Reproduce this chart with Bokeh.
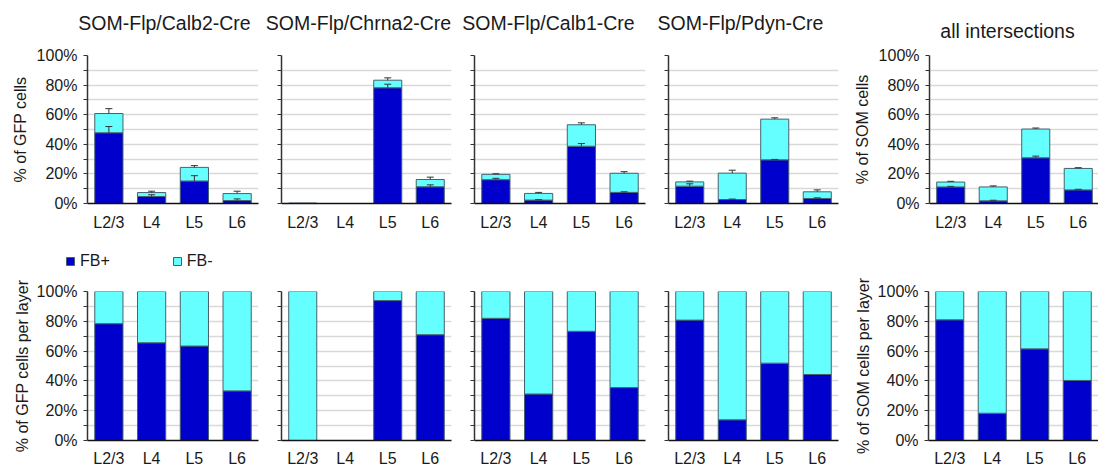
from bokeh.plotting import figure
from bokeh.layouts import column, row
from bokeh.core.properties import value
from bokeh.models import (ColumnDataSource, FactorRange, Range1d, FixedTicker,
                          PrintfTickFormatter, Whisker, TeeHead, Legend, LegendItem)
from bokeh.embed import file_html
from bokeh.resources import INLINE

# ---------------- data ----------------
layers = ["L2/3", "L4", "L5", "L6"]
titles = ["SOM-Flp/Calb2-Cre", "SOM-Flp/Chrna2-Cre", "SOM-Flp/Calb1-Cre",
          "SOM-Flp/Pdyn-Cre", "all intersections"]
series_names = ["FB+", "FB-"]

# top row: % of GFP (or SOM) cells, stacked FB+ / FB-
calb2_pos = [47.8, 4.7, 15.2, 2.0]
calb2_neg = [13.0, 2.7, 9.2, 4.7]
calb2_err_pos = [4.2, 1.2, 3.6, 1.1]
calb2_err_tot = [3.3, 0.9, 1.2, 1.6]

chrna2_pos = [0.0, 0.0, 78.2, 11.3]
chrna2_neg = [0.3, 0.0, 5.1, 4.9]
chrna2_err_pos = [0.0, 0.0, 2.4, 1.3]
chrna2_err_tot = [0.0, 0.0, 1.6, 1.6]

calb1_pos = [16.1, 2.3, 38.7, 7.5]
calb1_neg = [3.6, 4.5, 14.5, 12.9]
calb1_err_pos = [0.9, 0.3, 1.8, 0.4]
calb1_err_tot = [0.4, 0.7, 1.3, 1.1]

pdyn_pos = [11.7, 2.7, 29.5, 3.4]
pdyn_neg = [2.9, 17.8, 27.5, 4.5]
pdyn_err_pos = [1.6, 0.3, 0.3, 0.4]
pdyn_err_tot = [0.5, 2.0, 0.9, 1.3]

all_pos = [11.2, 1.8, 30.9, 9.2]
all_neg = [3.3, 9.4, 19.4, 14.5]
all_err_pos = [0.4, 0.4, 1.1, 0.4]
all_err_tot = [0.5, 0.7, 0.7, 0.5]

# bottom row: % of cells per layer
calb2_layer_pos = [78.4, 65.6, 63.4, 33.3]
calb2_layer_neg = [21.6, 34.4, 36.6, 66.7]
chrna2_layer_pos = [0.0, 0.0, 93.9, 71.0]
chrna2_layer_neg = [100.0, 0.0, 6.1, 29.0]
calb1_layer_pos = [82.0, 31.2, 73.3, 35.5]
calb1_layer_neg = [18.0, 68.8, 26.7, 64.5]
pdyn_layer_pos = [80.8, 13.9, 51.9, 44.3]
pdyn_layer_neg = [19.2, 86.1, 48.1, 55.7]
all_layer_pos = [81.0, 18.3, 61.5, 40.3]
all_layer_neg = [19.0, 81.7, 38.5, 59.7]

top_pos = [calb2_pos, chrna2_pos, calb1_pos, pdyn_pos, all_pos]
top_neg = [calb2_neg, chrna2_neg, calb1_neg, pdyn_neg, all_neg]
top_err_pos = [calb2_err_pos, chrna2_err_pos, calb1_err_pos, pdyn_err_pos, all_err_pos]
top_err_tot = [calb2_err_tot, chrna2_err_tot, calb1_err_tot, pdyn_err_tot, all_err_tot]
bot_pos = [calb2_layer_pos, chrna2_layer_pos, calb1_layer_pos, pdyn_layer_pos, all_layer_pos]
bot_neg = [calb2_layer_neg, chrna2_layer_neg, calb1_layer_neg, pdyn_layer_neg, all_layer_neg]

top_ylabels = ["% of GFP cells", None, None, None, "% of SOM cells"]
bot_ylabels = ["% of GFP cells per layer", None, None, None, "% of SOM cells per layer"]

# ---------------- style / layout ----------------
BLUE = "#0000CC"
CYAN = "#66FFFF"
EDGE = "#46606E"
AXIS = "#333333"
GRID = "#D9D9D9"
TXT = "#1a1a1a"
FONT = "Liberation Sans"

fig_starts = [0, 268, 462, 656, 850]
fig_ends = [268, 462, 656, 850, 1098]
frame_lefts = [87, 281, 474, 668, 928]
frame_widths = [171, 170, 171, 170, 170]
TITLE_STRIP_H = 40
LEGEND_STRIP_H = 32
title_cx = [164, 358, 548, 740, 1007]
title_cy = [22, 22, 22, 22, 30]


def make_panel(i, pos, neg, err_pos, err_tot, ylabel, top_row):
    bl = frame_lefts[i] - fig_starts[i]
    br = fig_ends[i] - (frame_lefts[i] + frame_widths[i])
    if top_row:
        bt, fh, bb = 55 - TITLE_STRIP_H, 148, 39
    else:
        bt, fh, bb = 17, 149, 28
    p = figure(x_range=FactorRange(*layers, range_padding=0),
               y_range=Range1d(0, 100),
               frame_width=frame_widths[i], frame_height=fh,
               min_border_left=bl, min_border_right=br,
               min_border_top=bt, min_border_bottom=bb,
               output_backend="svg", toolbar_location=None)
    p.outline_line_color = None
    p.background_fill_color = "white"

    src = ColumnDataSource(dict(layer=layers, pos=pos, neg=neg))
    p.vbar_stack(["pos", "neg"], x="layer", width=0.66, source=src,
                 fill_color=[BLUE, CYAN], line_color=EDGE, line_width=1)

    if err_pos is not None:
        for base_vals, err_vals in ((pos, err_pos),
                                    ([a + b for a, b in zip(pos, neg)], err_tot)):
            xs, lo, hi = [], [], []
            for lay, v, e in zip(layers, base_vals, err_vals):
                if e > 0:
                    xs.append(lay)
                    lo.append(v)
                    hi.append(v + e)
            es = ColumnDataSource(dict(x=xs, lower=lo, upper=hi))
            w = Whisker(base="x", lower="lower", upper="upper", source=es,
                        dimension="height", line_color=AXIS, line_width=1,
                        upper_head=TeeHead(size=7, line_color=AXIS, line_width=1),
                        lower_head=None, level="overlay")
            p.add_layout(w)

    # y axis
    if ylabel is not None:
        ticker = FixedTicker(ticks=[0, 20, 40, 60, 80, 100], minor_ticks=[10, 30, 50, 70, 90])
    else:
        ticker = FixedTicker(ticks=[], minor_ticks=[0, 10, 20, 30, 40, 50, 60, 70, 80, 90, 100])
    ya = p.yaxis[0]
    ya.ticker = ticker
    ya.formatter = PrintfTickFormatter(format="%d%%")
    ya.axis_line_color = AXIS
    ya.axis_line_width = 1.5
    ya.major_tick_line_color = AXIS
    ya.minor_tick_line_color = AXIS
    ya.major_tick_out = 4
    ya.major_tick_in = 0
    ya.minor_tick_out = 4
    ya.minor_tick_in = 0
    ya.major_label_standoff = 6
    ya.major_label_text_font = FONT
    ya.major_label_text_font_size = "16px"
    ya.major_label_text_color = TXT
    if ylabel is not None:
        ya.axis_label = ylabel
        ya.axis_label_text_font = FONT
        ya.axis_label_text_font_size = "16px"
        ya.axis_label_text_font_style = "normal"
        ya.axis_label_text_color = TXT
        ya.axis_label_standoff = 5 if top_row else 3

    yg = p.ygrid[0]
    yg.ticker = ticker
    yg.grid_line_color = GRID
    yg.grid_line_width = 1.5
    yg.minor_grid_line_color = GRID
    yg.minor_grid_line_width = 1.5
    p.xgrid.grid_line_color = None

    xa = p.xaxis[0]
    xa.axis_line_color = "#111111"
    xa.axis_line_width = 1.5
    xa.major_tick_line_color = None
    xa.minor_tick_line_color = None
    xa.major_tick_out = 0
    xa.minor_tick_out = 0
    xa.major_tick_in = 0
    xa.minor_tick_in = 0
    xa.major_label_standoff = 10 if top_row else 9
    xa.major_label_text_font = FONT
    xa.major_label_text_font_size = "16px"
    xa.major_label_text_color = TXT
    return p


# title strip
ts = figure(width=1098, height=TITLE_STRIP_H, x_range=Range1d(0, 1098),
            y_range=Range1d(TITLE_STRIP_H, 0), x_axis_type=None, y_axis_type=None,
            toolbar_location=None, output_backend="svg", min_border=0)
ts.outline_line_color = None
ts.text(x=title_cx, y=title_cy, text=titles, text_align="center",
        text_baseline="middle", text_font=value(FONT),
        text_font_size=value("19.5px"), text_color=TXT)

top = [make_panel(i, top_pos[i], top_neg[i], top_err_pos[i], top_err_tot[i],
                  top_ylabels[i], True) for i in range(5)]
bot = [make_panel(i, bot_pos[i], bot_neg[i], None, None,
                  bot_ylabels[i], False) for i in range(5)]

# legend strip: swatch renderers whose points lie far outside this strip's
# visible y-range, so only their legend swatches show
lg = figure(width=1098, height=LEGEND_STRIP_H, x_range=FactorRange(*layers),
            y_range=Range1d(-1000, -999), x_axis_type=None, y_axis_type=None,
            toolbar_location=None, output_backend="svg", min_border=0)
lg.outline_line_color = None
lsrc = ColumnDataSource(dict(layer=layers, pos=calb2_layer_pos, neg=calb2_layer_neg))
sw_pos = lg.scatter(x="layer", y="pos", source=lsrc, marker="square", size=8,
                    fill_color=BLUE, line_color=EDGE, line_width=1)
sw_neg = lg.scatter(x="layer", y="neg", source=lsrc, marker="square", size=8,
                    fill_color=CYAN, line_color=EDGE, line_width=1)
legend = Legend(items=[LegendItem(label=series_names[0], renderers=[sw_pos]),
                       LegendItem(label=series_names[1], renderers=[sw_neg])],
                orientation="horizontal", location=(60, 3),
                glyph_width=20, glyph_height=20, label_standoff=-4, spacing=57,
                padding=0, margin=0, border_line_color=None,
                background_fill_alpha=0,
                label_text_font=FONT, label_text_font_size="16px",
                label_text_color=TXT)
lg.add_layout(legend, "center")

layout = column(ts,
                row(*top, spacing=0),
                lg,
                row(*bot, spacing=0), spacing=0)

open("out.html", "w").write(file_html(layout, INLINE))
